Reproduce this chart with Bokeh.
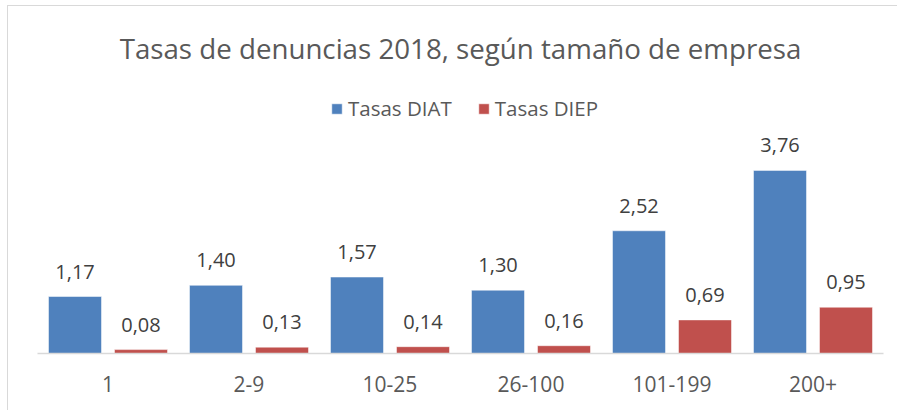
from bokeh.plotting import figure
from bokeh.models import ColumnDataSource, FactorRange, Range1d, Label, Legend, LegendItem
from bokeh.transform import dodge
from bokeh.core.properties import value
from bokeh.embed import file_html
from bokeh.resources import INLINE

categories = ["1", "2-9", "10-25", "26-100", "101-199", "200+"]
diat = [1.17, 1.40, 1.57, 1.30, 2.52, 3.76]
diep = [0.08, 0.13, 0.14, 0.16, 0.69, 0.95]
title_text = "Tasas de denuncias 2018, según tamaño de empresa"
series_names = ["Tasas DIAT", "Tasas DIEP"]

fmt = lambda v: f"{v:.2f}".replace(".", ",")
src = ColumnDataSource(dict(
    cat=categories, diat=diat, diep=diep,
    diat_lbl=[fmt(v) for v in diat], diep_lbl=[fmt(v) for v in diep],
))

FONT = "Open Sans"
p = figure(width=890, height=405, x_range=FactorRange(*categories, range_padding=0),
           y_range=Range1d(0, 7.125), output_backend="svg", toolbar_location=None,
           min_border_left=29, min_border_right=15, min_border_top=0, min_border_bottom=58)
p.styles = {"border-left": "1px solid #d9d9d9", "border-top": "1px solid #d9d9d9",
            "margin-left": "7px", "margin-top": "5px"}
p.outline_line_color = None
p.xgrid.visible = False
p.ygrid.visible = False
p.yaxis.visible = False

blue = "#4F81BD"
red = "#C0504D"
r1 = p.vbar(x=dodge("cat", -0.234, range=p.x_range), top="diat", width=0.376, source=src,
            fill_color=blue, line_color="white", line_width=0.5)
r2 = p.vbar(x=dodge("cat", 0.234, range=p.x_range), top="diep", width=0.376, source=src,
            fill_color=red, line_color="white", line_width=0.5)

for col, off in (("diat", -0.234), ("diep", 0.234)):
    p.text(x=dodge("cat", off, range=p.x_range), y=col, text=col + "_lbl", source=src,
           text_align="center", text_baseline="alphabetic", y_offset=-25,
           text_font=value(FONT), text_font_size="20px", text_color="#404040")

ax = p.xaxis[0]
ax.axis_line_color = "#d9d9d9"
ax.axis_line_width = 1.5
ax.major_tick_line_color = None
ax.minor_tick_line_color = None
ax.major_label_text_font = FONT
ax.major_label_text_font_size = "21px"
ax.major_label_text_color = "#595959"
ax.major_label_standoff = 16

p.add_layout(Label(x=3, y=6.28, text=title_text, text_align="center", text_baseline="middle",
                   text_font=FONT, text_font_size="27.7px", text_color="#595959"))

legend = Legend(items=[LegendItem(label=series_names[0], renderers=[r1]),
                       LegendItem(label=series_names[1], renderers=[r2])],
                orientation="horizontal", location=(293, 231), padding=0, margin=0,
                spacing=25, label_standoff=5, glyph_width=13, glyph_height=13,
                label_text_font=FONT, label_text_font_size="20.5px", label_text_color="#595959",
                border_line_color=None, background_fill_alpha=0)
p.add_layout(legend)

open("out.html", "w").write(file_html(p, INLINE))
